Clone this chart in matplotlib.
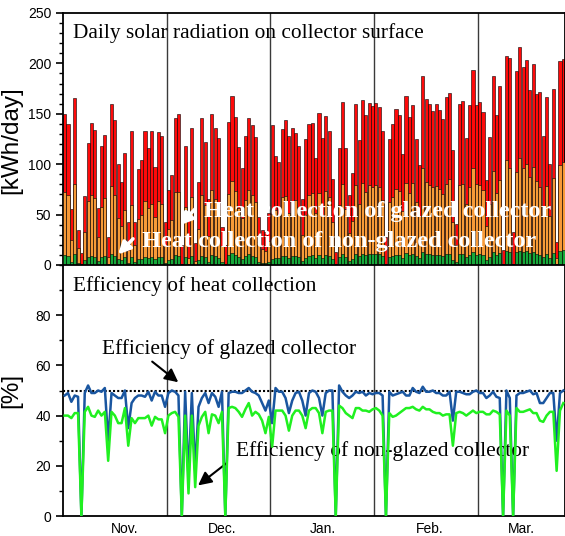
import numpy as np
import matplotlib
matplotlib.use('Agg')
import matplotlib.pyplot as plt
from matplotlib.ticker import MultipleLocator

# daily values, Nov - Mar (31-day slots per month)
solar = [150, 140, 56, 166, 35, 12, 68, 121, 141, 134, 57, 118, 129, 28, 160, 144, 100, 82, 111, 43,
         133, 43, 95, 104, 133, 116, 133, 97, 132, 128, 43,
         74, 89, 146, 150, 20, 118, 45, 136, 22, 82, 146, 122, 65, 150, 136, 126, 38, 20, 142, 168,
         147, 117, 96, 128, 146, 139, 127, 48, 35, 33, 52,
         139, 108, 102, 135, 144, 128, 136, 131, 118, 65, 125, 140, 141, 106, 151, 126, 148, 133, 85, 13,
         116, 162, 116, 69, 91, 160, 124, 164, 149, 161, 158,
         161, 157, 133, 28, 125, 140, 155, 149, 110, 168, 147, 159, 125, 99, 187, 165, 160, 153, 160, 154,
         145, 167, 171, 114, 41, 160, 163, 126, 159, 193, 159,
         162, 152, 84, 127, 187, 149, 178, 15, 207, 205, 33, 192, 216, 196, 203, 174, 199, 170, 172, 128,
         167, 100, 175, 23, 202, 204]

heat_glazed = [72, 69, 25, 80, 17, 0, 33, 63, 69, 66, 28, 58, 66, 8, 78, 69, 47, 39, 55, 15,
               60, 20, 46, 50, 63, 57, 61, 48, 63, 61, 19,
               36, 45, 72, 72, 0, 58, 7, 67, 4, 36, 69, 60, 29, 74, 65, 55, 19, 0, 70, 83,
               73, 57, 47, 64, 74, 69, 62, 23, 16, 14, 24,
               51, 55, 50, 67, 68, 52, 63, 64, 58, 30, 50, 69, 71, 52, 71, 50, 73, 67, 43, 0,
               60, 80, 56, 32, 44, 79, 61, 81, 72, 79, 77,
               79, 77, 64, 0, 62, 67, 75, 73, 54, 81, 71, 81, 62, 49, 96, 82, 79, 77, 78, 75,
               70, 80, 85, 43, 20, 79, 80, 61, 77, 96, 80,
               79, 74, 39, 61, 93, 71, 84, 0, 104, 96, 0, 92, 106, 96, 100, 87, 97, 83, 77, 58,
               78, 49, 86, 7, 99, 102]

heat_nonglazed = [10, 9, 3, 11, 2, 0, 5, 8, 9, 8, 4, 8, 9, 1, 11, 9, 6, 5, 8, 2,
                  8, 3, 6, 6, 8, 7, 8, 6, 8, 8, 2,
                  5, 6, 10, 9, 0, 8, 1, 9, 0, 5, 9, 8, 3, 10, 9, 7, 3, 0, 10, 12,
                  10, 8, 6, 9, 11, 9, 8, 3, 2, 2, 3,
                  6, 7, 7, 9, 9, 7, 9, 9, 8, 4, 7, 9, 10, 7, 10, 7, 10, 9, 6, 0,
                  8, 11, 8, 4, 6, 11, 9, 11, 10, 11, 11,
                  11, 11, 9, 0, 8, 9, 10, 10, 7, 12, 10, 11, 9, 7, 13, 11, 11, 10, 10, 10,
                  9, 11, 11, 5, 3, 11, 11, 8, 10, 13, 10,
                  11, 10, 5, 8, 13, 10, 12, 0, 14, 13, 0, 13, 14, 13, 14, 12, 13, 11, 10, 8,
                  11, 7, 12, 1, 14, 15]

eff_glazed = [48, 49, 45.5, 48, 47.5, 0, 49, 52, 49, 49, 50, 49.5, 51, 30, 49, 48, 47, 47, 50, 35,
              45, 47, 48, 48, 47.5, 49.5, 46, 49.5, 48, 48, 43.5,
              49, 50, 49.5, 48, 0, 49.5, 15, 49, 18, 43.5, 47, 49, 45, 49, 47.5, 43.5, 49.5, 0, 49, 49.5,
              49.5, 49, 49, 50, 51, 49.5, 49, 48, 45, 42, 46,
              37, 51, 49.5, 49.5, 47, 41, 46, 49, 49.5, 46, 40, 49, 50, 49.5, 47, 40, 49, 50, 50, 0,
              52, 49.5, 48, 47, 48, 49.5, 49, 49.5, 48, 49, 48.5,
              49, 49, 48, 0, 49.5, 48, 48.5, 49, 49.5, 48, 48, 51, 49.5, 49, 51.5, 49.5, 49.5, 50, 49, 49,
              48, 48, 49.5, 38, 49.5, 49.5, 49, 48.5, 48.5, 49.5, 50,
              49, 49, 47, 48, 49.5, 47.5, 47, 0, 50, 47, 0, 48, 49, 49, 49.5, 50, 48.5, 49, 45, 45,
              47, 49, 49, 30, 49, 50]

eff_nonglazed = [40, 40, 39, 41, 41, 0, 41.5, 43.5, 40, 39.5, 42, 40, 41.5, 22, 41.5, 40, 37, 37, 43, 28,
                 39, 37, 39, 39, 39, 40, 36, 39.5, 38.5, 38.5, 33,
                 40, 41, 41.5, 39.5, 0, 40, 9, 40, 11.5, 36, 39.5, 41.5, 33, 40.5, 40, 37, 41.5, 0, 43, 43.5,
                 43, 41.5, 39.5, 42.5, 45, 40, 41.5, 40.5, 38, 33, 39.5,
                 27.6, 42, 42, 42, 40, 34, 40, 42, 42, 40, 35, 42, 43, 43, 41, 33, 41.5, 42, 42, 0,
                 44, 43, 41, 40, 39, 43, 43, 42, 42, 41.5, 42.5,
                 43, 42, 40, 0, 41, 39.5, 40, 41, 42, 43, 43, 43.5, 42.5, 42, 43.5, 42.5, 42.5, 41.5, 41, 41,
                 40, 40.5, 40.5, 28, 41, 41.5, 41, 40, 41, 42, 41,
                 41.5, 41.5, 40.5, 40.5, 42, 41.5, 40.5, 0, 42, 40, 0, 43, 41.5, 41.5, 42, 42.5, 41, 41, 38, 37.5,
                 40, 41.5, 41.5, 18, 42, 45]

month_labels = ['Nov.', 'Dec.', 'Jan.', 'Feb.', 'Mar.']
month_label_pos = [18, 47, 77, 109, 136.5]
month_edges = [30.5, 61.5, 92.5, 123.5]

days = np.arange(len(solar))
serif = ['Liberation Serif', 'DejaVu Serif']
plt.rcParams['font.family'] = ['Liberation Sans', 'DejaVu Sans']

fig = plt.figure(figsize=(5.65, 5.36), dpi=100)
ax1 = fig.add_axes([0.1115, 0.5056, 0.8885, 0.4702])
ax2 = fig.add_axes([0.1115, 0.0373, 0.8885, 0.4683])

# --- top: daily radiation and heat collected
bw = 0.92
ax1.bar(days, solar, width=bw, color='#ff0a0a', edgecolor='black', linewidth=0.4, zorder=2)
ax1.bar(days, heat_glazed, width=bw, color='#f79a38', edgecolor='black', linewidth=0.4, zorder=3)
ax1.bar(days, heat_nonglazed, width=bw, color='#16a83a', edgecolor='black', linewidth=0.4, zorder=4)
for e in month_edges:
    ax1.axvline(e, color='#3a3a3a', lw=1, zorder=1)
ax1.set_xlim(-0.5, 149.5)
ax1.set_ylim(0, 250)
ax1.set_yticks([0, 50, 100, 150, 200, 250])
ax1.yaxis.set_minor_locator(MultipleLocator(10))
ax1.set_xticks([])
ax1.set_ylabel('[kWh/day]', fontsize=17.5)
ax1.yaxis.set_label_coords(-0.082, 0.496)
ax1.text(2.5, 230, 'Daily solar radiation on collector surface', fontsize=15.4,
         family=serif, va='center', ha='left')
ax1.text(41.5, 53, 'Heat collection of glazed collector', fontsize=17.5, fontweight='bold',
         color='white', family=serif, va='center', ha='left', zorder=6)
ax1.text(23.2, 23, 'Heat collection of non-glazed collector', fontsize=17.5, fontweight='bold',
         color='white', family=serif, va='center', ha='left', zorder=6)
ax1.annotate('', xy=(33.9, 37.5), xytext=(39.5, 57.5), zorder=6,
             arrowprops=dict(arrowstyle='-|>', color='white', lw=2.5, mutation_scale=18))
ax1.annotate('', xy=(15.4, 8.5), xytext=(21.0, 28.0), zorder=6,
             arrowprops=dict(arrowstyle='-|>', color='white', lw=2.5, mutation_scale=18))

# --- bottom: collection efficiency
for e in month_edges:
    ax2.axvline(e, color='#3a3a3a', lw=1, zorder=1)
ax2.axhline(50, color='black', lw=1.5, ls=(0, (1, 1)), zorder=2)
ax2.plot(days, eff_glazed, color='#1a56a0', lw=1.8, zorder=3)
ax2.plot(days, eff_nonglazed, color='#20f020', lw=1.8, zorder=4)
ax2.set_xlim(-0.5, 149.5)
ax2.set_ylim(0, 100)
ax2.set_yticks([0, 20, 40, 60, 80])
ax2.yaxis.set_minor_locator(MultipleLocator(10))
ax2.set_xticks(month_label_pos)
ax2.set_xticklabels(month_labels, fontsize=10)
ax2.tick_params(axis='x', length=0, pad=4)
ax2.set_ylabel('[%]', fontsize=17.5)
ax2.yaxis.set_label_coords(-0.082, 0.50)
ax2.text(2.5, 91.5, 'Efficiency of heat collection', fontsize=15.4, family=serif, va='center')
ax2.text(11.2, 66.5, 'Efficiency of glazed collector', fontsize=15.4, family=serif, va='center')
ax2.text(51.2, 26, 'Efficiency of non-glazed collector', fontsize=15.4, family=serif, va='center')
ax2.annotate('', xy=(34.6, 52.6), xytext=(25.5, 62.2),
             arrowprops=dict(arrowstyle='-|>', color='black', lw=1.5, mutation_scale=20))
ax2.annotate('', xy=(39.2, 11.5), xytext=(48.9, 21.6),
             arrowprops=dict(arrowstyle='-|>', color='black', lw=1.5, mutation_scale=20))

for ax in (ax1, ax2):
    for s in ax.spines.values():
        s.set_linewidth(1.3)
    ax.tick_params(axis='y', which='major', length=5, width=1.2, labelsize=10)
    ax.tick_params(axis='y', which='minor', length=3, width=1.0)

fig.savefig('out.png', dpi=100)
